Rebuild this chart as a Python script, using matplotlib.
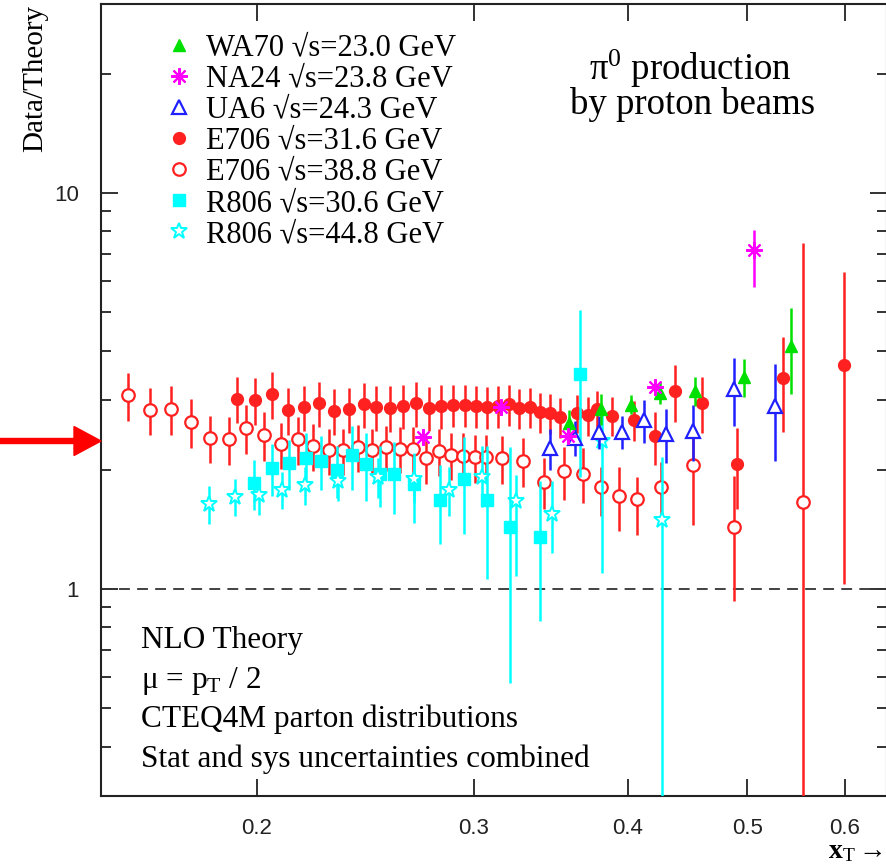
import matplotlib
matplotlib.use("Agg")
import matplotlib.pyplot as plt
from matplotlib.lines import Line2D
from matplotlib.patches import FancyArrow
from matplotlib.transforms import IdentityTransform
from matplotlib.ticker import NullLocator, FixedLocator, LogLocator, NullFormatter

plt.rcParams['mathtext.fontset'] = 'custom'
plt.rcParams['mathtext.rm'] = 'Liberation Serif'
plt.rcParams['mathtext.it'] = 'Liberation Serif:italic'
plt.rcParams['mathtext.bf'] = 'Liberation Serif:bold'

# ---------------- data ----------------
# E706 sqrt(s)=38.8 GeV (open red circles)
e706b_x = [0.1571, 0.1637, 0.1703, 0.1768, 0.1832, 0.1898, 0.1959, 0.2026, 0.2092, 0.2159,
           0.2221, 0.2288, 0.2349, 0.2415, 0.2479, 0.2546, 0.2613, 0.2677, 0.2743, 0.2810,
           0.2874, 0.2939, 0.3006, 0.3068, 0.3161, 0.3288, 0.3420, 0.3550, 0.3678, 0.3804,
           0.3934, 0.4069, 0.4256, 0.4518, 0.4876, 0.5550]
e706b_y = [3.09, 2.83, 2.85, 2.64, 2.41, 2.39, 2.55, 2.45, 2.32, 2.39,
           2.30, 2.24, 2.24, 2.28, 2.24, 2.28, 2.26, 2.26, 2.14, 2.23,
           2.18, 2.17, 2.15, 2.15, 2.14, 2.11, 1.86, 1.98, 1.95, 1.81,
           1.72, 1.69, 1.81, 2.05, 1.43, 1.66]
e706b_elo = [0.43, 0.38, 0.40, 0.37, 0.33, 0.33, 0.36, 0.35, 0.31, 0.33,
             0.31, 0.30, 0.30, 0.31, 0.30, 0.30, 0.30, 0.30, 0.30, 0.30,
             0.30, 0.30, 0.30, 0.30, 0.30, 0.30, 0.27, 0.30, 0.30, 0.28,
             0.32, 0.32, 0.28, 0.60, 0.50, 5.80]
e706b_ehi = [0.43, 0.38, 0.40, 0.37, 0.33, 0.33, 0.36, 0.35, 0.31, 0.33,
             0.31, 0.30, 0.30, 0.31, 0.30, 0.30, 0.30, 0.30, 0.30, 0.30,
             0.30, 0.30, 0.30, 0.30, 0.30, 0.30, 0.28, 0.30, 0.32, 0.22,
             0.31, 0.23, 0.28, 0.38, 0.50, 5.80]

# E706 sqrt(s)=31.6 GeV (filled red circles)
e706a_x = [0.1927, 0.1993, 0.2057, 0.2119, 0.2183, 0.2246, 0.2310, 0.2375, 0.2443, 0.2498,
           0.2564, 0.2627, 0.2692, 0.2758, 0.2821, 0.2885, 0.2950, 0.3011, 0.3074, 0.3138,
           0.3203, 0.3264, 0.3331, 0.3394, 0.3458, 0.3523, 0.3637, 0.3713, 0.3776, 0.3883,
           0.4046, 0.4208, 0.4368, 0.4594, 0.4904, 0.5347, 0.5991]
e706a_y = [3.02, 3.00, 3.11, 2.83, 2.88, 2.95, 2.82, 2.85, 2.93, 2.88,
           2.87, 2.90, 2.95, 2.87, 2.90, 2.92, 2.92, 2.90, 2.88, 2.90,
           2.93, 2.87, 2.88, 2.80, 2.78, 2.72, 2.78, 2.75, 2.85, 2.74,
           2.67, 2.43, 3.16, 2.95, 2.07, 3.41, 3.68]
e706a_err = [0.40, 0.40, 0.42, 0.38, 0.38, 0.38, 0.37, 0.37, 0.38, 0.37,
             0.38, 0.37, 0.38, 0.37, 0.37, 0.36, 0.36, 0.35, 0.35, 0.35,
             0.35, 0.33, 0.33, 0.33, 0.32, 0.31, 0.31, 0.31, 0.32, 0.31,
             0.31, 0.37, 0.52, 0.47, 0.48, 0.92, 2.65]

# WA70 sqrt(s)=23.0 GeV (green triangles)
wa70_x = [0.3584, 0.3804, 0.4023, 0.4248, 0.4535, 0.4968, 0.5427]
wa70_y = [2.63, 2.85, 2.92, 3.13, 3.16, 3.43, 4.11]
wa70_err = [0.20, 0.26, 0.16, 0.20, 0.27, 0.38, 1.00]

# NA24 sqrt(s)=23.8 GeV (magenta asterisks)
na24_x = [0.2728, 0.3156, 0.3577, 0.4208, 0.5063]
na24_y = [2.42, 2.88, 2.43, 3.24, 7.18]
na24_elo = [0.06, 0.08, 0.08, 0.10, 1.40]
na24_ehi = [0.06, 0.08, 0.08, 0.10, 0.90]

# UA6 sqrt(s)=24.3 GeV (open blue triangles)
ua6_x = [0.3458, 0.3624, 0.3790, 0.3956, 0.4122, 0.4295, 0.4518, 0.4876, 0.5267]
ua6_y = [2.27, 2.41, 2.49, 2.49, 2.67, 2.46, 2.51, 3.20, 2.90]
ua6_err = [0.27, 0.25, 0.24, 0.24, 0.33, 0.38, 0.40, 0.62, 0.80]

# R806 sqrt(s)=30.6 GeV (filled cyan squares)
r806a_x = [0.1989, 0.2057, 0.2123, 0.2192, 0.2254, 0.2323, 0.2388, 0.2452, 0.2517, 0.2584,
           0.2682, 0.2816, 0.2945, 0.3074, 0.3209, 0.3394, 0.3658]
r806a_y = [1.85, 2.02, 2.08, 2.14, 2.11, 2.00, 2.18, 2.07, 1.95, 1.95,
           1.84, 1.68, 1.90, 1.68, 1.43, 1.35, 3.49]
r806a_err = [0.27, 0.30, 0.30, 0.33, 0.33, 0.30, 0.40, 0.40, 0.34, 0.40,
             0.37, 0.38, 0.52, 0.62, 0.85, 0.52, 1.57]

# R806 sqrt(s)=44.8 GeV (open cyan stars)
r806b_x = [0.1828, 0.1919, 0.2007, 0.2096, 0.2188, 0.2327, 0.2507, 0.2682, 0.2863, 0.3045,
           0.3246, 0.3471, 0.3811, 0.4264]
r806b_y = [1.64, 1.71, 1.73, 1.78, 1.83, 1.87, 1.92, 1.90, 1.78, 1.92,
           1.67, 1.55, 2.37, 1.49]
r806b_elo = [0.18, 0.18, 0.19, 0.19, 0.20, 0.20, 0.22, 0.25, 0.25, 0.31,
             0.59, 0.32, 1.27, 1.30]
r806b_ehi = [0.18, 0.18, 0.19, 0.19, 0.20, 0.20, 0.22, 0.25, 0.25, 0.37,
             0.27, 0.32, 0.47, 0.66]

x_ticks = [0.2, 0.3, 0.4, 0.5, 0.6]
x_ticklabels = ['0.2', '0.3', '0.4', '0.5', '0.6']
y_ticks = [1, 10]
y_ticklabels = ['1', '10']

legend_labels = ['WA70 \u221as=23.0 GeV', 'NA24 \u221as=23.8 GeV', 'UA6 \u221as=24.3 GeV',
                 'E706 \u221as=31.6 GeV', 'E706 \u221as=38.8 GeV', 'R806 \u221as=30.6 GeV',
                 'R806 \u221as=44.8 GeV']

# ---------------- figure ----------------
W, H = 887, 865
fig = plt.figure(figsize=(W / 100, H / 100), dpi=100)
ax = fig.add_axes([101 / W, 69 / H, 786 / W, 792 / H])
ax.set_xscale('log')
ax.set_yscale('log')
ax.set_xlim(0.1494, 0.6492)
ax.set_ylim(0.3, 30)

RED = '#ff2020'
GREEN = '#00e000'
MAG = '#ff00ff'
BLUE = '#2020ff'
CYAN = '#00ffff'

ebkw = dict(ls='none', capsize=0, elinewidth=1.8)

ax.errorbar(e706b_x, e706b_y, yerr=[e706b_elo, e706b_ehi], marker='o', ms=9,
            mfc='white', mec=RED, mew=1.6, ecolor=RED, zorder=3, **ebkw)
ax.errorbar(e706a_x, e706a_y, yerr=e706a_err, marker='o', ms=8.5,
            mfc=RED, mec=RED, ecolor=RED, zorder=3, **ebkw)
ax.errorbar(r806a_x, r806a_y, yerr=r806a_err, marker='s', ms=8,
            mfc=CYAN, mec=CYAN, ecolor=CYAN, zorder=4, **ebkw)
ax.errorbar(r806b_x, r806b_y, yerr=[r806b_elo, r806b_ehi], marker='*', ms=12,
            mfc='white', mec=CYAN, mew=1.4, ecolor=CYAN, zorder=4, **ebkw)
ax.errorbar(ua6_x, ua6_y, yerr=ua6_err, marker='^', ms=9.5,
            mfc='white', mec=BLUE, mew=1.6, ecolor=BLUE, zorder=5, **ebkw)
ax.errorbar(wa70_x, wa70_y, yerr=wa70_err, marker='^', ms=9,
            mfc=GREEN, mec=GREEN, ecolor=GREEN, zorder=5, **ebkw)
ax.errorbar(na24_x, na24_y, yerr=[na24_elo, na24_ehi], marker=(8, 2, 0), ms=12,
            mfc=MAG, mec=MAG, mew=1.5, ecolor=MAG, zorder=6, **ebkw)

ax.axhline(1.0, color='#333333', lw=1.3, ls=(0, (6, 4)), zorder=2)

# ticks
ax.xaxis.set_major_locator(FixedLocator(x_ticks))
ax.set_xticklabels(x_ticklabels, fontsize=16, family='Liberation Sans')
ax.xaxis.set_minor_locator(NullLocator())
ax.yaxis.set_major_locator(FixedLocator(y_ticks))
ax.set_yticklabels(y_ticklabels, fontsize=16, family='Liberation Sans')
ax.yaxis.set_minor_locator(LogLocator(base=10, subs=[2, 3, 4, 5, 6, 7, 8, 9]))
ax.yaxis.set_minor_formatter(NullFormatter())
ax.tick_params(which='both', direction='in', top=True, right=True, colors='#222222')
ax.tick_params(which='major', length=12, width=1.3)
ax.tick_params(which='minor', length=7, width=1.3)
ax.tick_params(axis='x', pad=16)
ax.tick_params(axis='y', pad=16)
for sp in ax.spines.values():
    sp.set_linewidth(1.5)
    sp.set_color('#222222')

SERIF = ['Liberation Serif', 'DejaVu Serif']

# legend with marker-only handles
handles = [
    Line2D([], [], ls='none', marker='^', ms=9, mfc=GREEN, mec=GREEN),
    Line2D([], [], ls='none', marker=(8, 2, 0), ms=12, mfc=MAG, mec=MAG, mew=1.5),
    Line2D([], [], ls='none', marker='^', ms=9.5, mfc='white', mec=BLUE, mew=1.6),
    Line2D([], [], ls='none', marker='o', ms=8.5, mfc=RED, mec=RED),
    Line2D([], [], ls='none', marker='o', ms=9, mfc='white', mec=RED, mew=1.6),
    Line2D([], [], ls='none', marker='s', ms=8, mfc=CYAN, mec=CYAN),
    Line2D([], [], ls='none', marker='*', ms=12, mfc='white', mec=CYAN, mew=1.4),
]
leg = ax.legend(handles, legend_labels, loc='upper left', bbox_to_anchor=(0.082, 0.963),
                frameon=False, handlelength=0.9, handletextpad=0.42, labelspacing=0.07,
                borderaxespad=0, borderpad=0,
                prop={'family': SERIF, 'size': 22})


def fx(px):
    return px / W


def fy(py):
    return 1 - py / H


fig.text(fx(690), fy(80), r'$\mathrm{\pi}^0$ production', ha='center', va='baseline',
         fontsize=26.5, family=SERIF)
fig.text(fx(693), fy(114), 'by proton beams', ha='center', va='baseline',
         fontsize=26.5, family=SERIF)

fig.text(fx(141), fy(648), 'NLO Theory', ha='left', va='baseline', fontsize=22.5, family=SERIF)
fig.text(fx(141), fy(688), r'$\mathrm{\mu}$ = p$_\mathrm{T}$ / 2', ha='left', va='baseline',
         fontsize=22.5, family=SERIF)
fig.text(fx(141), fy(727), 'CTEQ4M parton distributions', ha='left', va='baseline',
         fontsize=22.5, family=SERIF)
fig.text(fx(141), fy(767), 'Stat and sys uncertainties combined', ha='left', va='baseline',
         fontsize=22.5, family=SERIF)

fig.text(fx(35), fy(5), 'Data/Theory', rotation=90, ha='center', va='top',
         fontsize=21, family=SERIF)
fig.text(fx(828), fy(852), r'$\mathbf{x}_\mathrm{T}\rightarrow$', ha='left', va='center',
         fontsize=20, family=SERIF)

# red arrow pointing at the axis
arrow = FancyArrow(0, H - 441, 101, 0, width=5, head_width=29, head_length=27,
                   length_includes_head=True, color='#ff0000', transform=IdentityTransform())
fig.add_artist(arrow)

fig.savefig('out.png', dpi=100)
